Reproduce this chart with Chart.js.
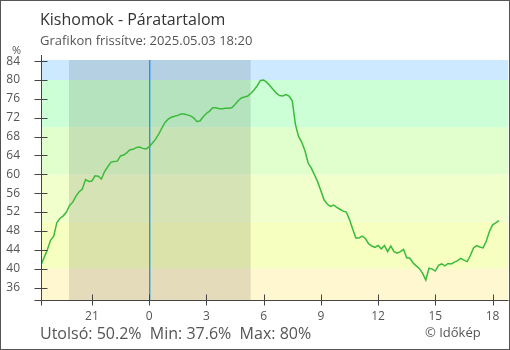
<!DOCTYPE html>
<html>
<head>
<meta charset="utf-8">
<script src="https://cdn.jsdelivr.net/npm/chart.js@4"></script>
<style>
  html, body { margin: 0; padding: 0; background: #fff; }
  #wrap { position: relative; width: 510px; height: 350px; }
</style>
</head>
<body>
<div id="wrap"><canvas id="humChart" width="510" height="350"></canvas></div>
<script>
// humidity (%) every 10 minutes, from 18:20 the previous day to 18:20
const startHour = -5 - 40 / 60;
const stepMinutes = 10;
const humidity = [
  40.8, 42.4, 44.0, 46.0, 46.9, 49.8, 50.7, 51.2, 52.0, 53.4,
  54.1, 55.4, 56.3, 56.9, 58.9, 58.5, 58.6, 59.7, 59.6, 59.0,
  60.6, 61.6, 62.6, 62.7, 62.8, 63.9, 64.1, 64.6, 65.2, 65.3,
  65.7, 65.8, 65.5, 65.4, 65.8, 66.6, 67.4, 68.5, 69.8, 71.0,
  71.7, 72.1, 72.3, 72.5, 72.8, 72.8, 72.6, 72.4, 72.0, 71.2,
  71.3, 72.2, 72.9, 73.4, 74.1, 74.1, 73.9, 73.9, 74.0, 74.0,
  74.1, 74.8, 75.6, 76.2, 76.4, 76.6, 77.2, 77.9, 78.8, 79.9,
  80.0, 79.5, 78.8, 78.0, 77.2, 76.7, 76.6, 76.9, 76.6, 75.6,
  70.6, 68.0, 66.8, 65.0, 62.4, 61.3, 59.9, 58.4, 56.5, 54.6,
  53.7, 53.2, 53.5, 53.0, 52.6, 52.2, 52.0, 50.4, 48.4, 46.5,
  46.5, 46.9, 46.4, 45.3, 44.8, 44.5, 44.9, 44.2, 44.9, 43.6,
  44.8, 43.6, 43.3, 43.6, 44.1, 42.3, 42.2, 41.2, 40.6, 40.0,
  39.0, 37.6, 40.1, 39.9, 39.5, 40.7, 41.0, 40.6, 41.1, 41.0,
  41.4, 41.7, 42.2, 41.8, 41.5, 42.8, 44.4, 44.9, 44.6, 44.4,
  45.8, 47.9, 49.3, 49.7, 50.2
];

const xTicks = [-3, 0, 3, 6, 9, 12, 15, 18];
const yTicks = [36, 40, 44, 48, 52, 56, 60, 64, 68, 72, 76, 80, 84];

// background bands (lower edge, upper edge, colour)
const bandEdges = [0, 40, 50, 60, 70, 80, 100];
const bandColors = ["#fff7d0", "#f7ffc0", "#f0ffcc", "#e0ffcc", "#ccffd6", "#cce9ff"];

// night (sunset -> sunrise), hours from midnight
const night = [-4.2, 5.32];

const points = humidity.map((v, i) => ({ x: startHour + i * stepMinutes / 60, y: v }));

const backdrop = {
  id: "backdrop",
  beforeDatasetsDraw(chart) {
    const { ctx, chartArea: a, scales: { x, y } } = chart;
    ctx.save();
    ctx.beginPath();
    ctx.rect(a.left, a.top, a.right - a.left, a.bottom - a.top);
    ctx.clip();
    for (let i = 0; i < bandColors.length; i++) {
      const top = y.getPixelForValue(bandEdges[i + 1]);
      const bot = y.getPixelForValue(bandEdges[i]);
      ctx.fillStyle = bandColors[i];
      ctx.fillRect(a.left, top, a.right - a.left, bot - top);
    }
    const n0 = x.getPixelForValue(night[0]);
    const n1 = x.getPixelForValue(night[1]);
    ctx.fillStyle = "rgba(0,0,0,0.11)";
    ctx.fillRect(n0, a.top, n1 - n0, a.bottom - a.top);
    // midnight marker
    const mid = Math.round(x.getPixelForValue(0));
    ctx.fillStyle = "#2196f3";
    ctx.fillRect(mid, a.top, 1.4, a.bottom - a.top);
    ctx.restore();
  },
  afterDraw(chart) {
    const { ctx, chartArea: a, scales: { x, y } } = chart;
    ctx.save();
    ctx.strokeStyle = "#444";
    ctx.lineWidth = 1;
    const ax = Math.round(a.left) + 0.5;
    const ay = Math.round(a.bottom) + 0.5;
    ctx.beginPath();
    ctx.moveTo(ax, a.top - 5);
    ctx.lineTo(ax, ay + 5);
    ctx.moveTo(ax - 7, ay);
    ctx.lineTo(a.right, ay);
    yTicks.forEach(t => {
      const py = Math.round(y.getPixelForValue(t)) + 0.5;
      ctx.moveTo(ax - 7, py);
      ctx.lineTo(ax + 6, py);
    });
    xTicks.forEach(t => {
      const px = Math.round(x.getPixelForValue(t)) + 0.5;
      ctx.moveTo(px, ay - 6);
      ctx.lineTo(px, ay + 5);
    });
    ctx.stroke();

    // frame
    ctx.strokeStyle = "#555";
    ctx.strokeRect(0.5, 0.5, chart.width - 1, chart.height - 1);

    ctx.textBaseline = "alphabetic";
    ctx.textAlign = "left";
    ctx.fillStyle = "#333";
    ctx.font = "16px 'Open Sans'";
    ctx.fillText("Kishomok - Páratartalom", 40, 25);
    ctx.fillStyle = "#555";
    ctx.font = "13px 'Open Sans'";
    ctx.fillText("Grafikon frissítve: 2025.05.03 18:20", 40, 45);
    ctx.font = "11px 'Open Sans'";
    ctx.fillText("%", 12, 54);
    ctx.font = "16px 'Open Sans'";
    ctx.fillText("Utolsó: 50.2%  Min: 37.6%  Max: 80%", 40, 339);
    ctx.font = "13px 'Open Sans'";
    ctx.fillText("© Időkép", 425, 337);
    ctx.restore();
  }
};

new Chart(document.getElementById("humChart"), {
  type: "line",
  data: {
    datasets: [{
      data: points,
      borderColor: "#3cba3c",
      borderWidth: 1.5,
      pointRadius: 0,
      tension: 0,
      fill: false
    }]
  },
  options: {
    responsive: false,
    animation: false,
    events: [],
    layout: { padding: { top: 60, right: 1.5, left: 0, bottom: 0 } },
    plugins: { legend: { display: false }, tooltip: { enabled: false } },
    scales: {
      x: {
        type: "linear",
        min: startHour,
        max: 18 + 50 / 60,
        afterBuildTicks: s => { s.ticks = xTicks.map(v => ({ value: v })); },
        afterFit: s => { s.height = 50; },
        grid: { display: false, drawTicks: false },
        border: { display: false },
        ticks: {
          padding: 9,
          color: "#555",
          font: { family: "Open Sans", size: 12 },
          maxRotation: 0,
          callback: v => String(v < 0 ? v + 24 : v)
        }
      },
      y: {
        min: 33.36,
        max: 84.24,
        afterBuildTicks: s => { s.ticks = yTicks.map(v => ({ value: v })); },
        afterFit: s => { s.width = 41; },
        grid: { display: false, drawTicks: false },
        border: { display: false },
        ticks: {
          padding: 21,
          color: "#555",
          font: { family: "Open Sans", size: 12 }
        }
      }
    }
  },
  plugins: [backdrop]
});
</script>
</body>
</html>
